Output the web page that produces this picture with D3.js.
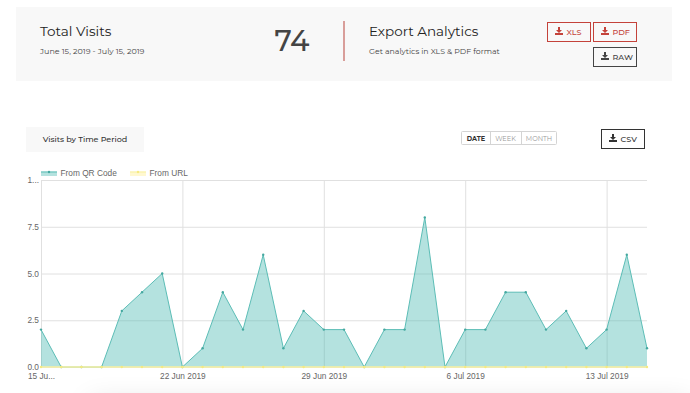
<!DOCTYPE html>
<html>
<head>
  <script src="https://d3js.org/d3.v7.min.js"></script>
  <style>
    html, body {
      margin: 0px;
      padding: 0px;
      background: #fff;
      overflow: hidden;
    }

    svg {
      display: block;
      position: absolute;
      left: 0px;
      top: 0px;
    }

    .ui {
      font-family: Montserrat, Inter, "Open Sans", sans-serif;
    }

    .axis text, .legend text {
      font-family: "Liberation Sans", Arial, sans-serif;
      font-size: 8.3px;
      fill: #666;
    }

    /* faint card shadow coming up from below the window */
    #shade {
      position: absolute;
      left: 90px;
      top: 402px;
      width: 600px;
      height: 40px;
      box-shadow: 0px 0px 28px rgba(0,0,0,0.13);
    }
  </style>
</head>
<body>
  <div id="shade"></div>
  <div id="chart"></div>
  <script>

    const dates = [
      "2019-06-15","2019-06-16","2019-06-17","2019-06-18","2019-06-19","2019-06-20","2019-06-21",
      "2019-06-22","2019-06-23","2019-06-24","2019-06-25","2019-06-26","2019-06-27","2019-06-28",
      "2019-06-29","2019-06-30","2019-07-01","2019-07-02","2019-07-03","2019-07-04","2019-07-05",
      "2019-07-06","2019-07-07","2019-07-08","2019-07-09","2019-07-10","2019-07-11","2019-07-12",
      "2019-07-13","2019-07-14","2019-07-15"
    ];
    const fromQr = [2,0,0,0,3,4,5,0,1,4,2,6,1,3,2,2,0,2,2,8,0,2,2,4,4,2,3,1,2,6,1];
    const fromUrl = [0,0,0,0,0,0,0,0,0,0,0,0,0,0,0,0,0,0,0,0,0,0,0,0,0,0,0,0,0,0,0];

    const yTicks = [0, 2.5, 5, 7.5, 10];
    const yTickLabels = ["0.0", "2.5", "5.0", "7.5", "1..."];
    const xTicks = ["2019-06-15","2019-06-22","2019-06-29","2019-07-06","2019-07-13"];
    const xTickLabels = ["15 Ju...", "22 Jun 2019", "29 Jun 2019", "6 Jul 2019", "13 Jul 2019"];

    const seriesNames = ["From QR Code", "From URL"];

    const width = 690;
    const height = 393;
    const margin = {top: 180, left: 41, right: 43, bottom: 26};

    const svg = d3.select("#chart")
      .append("svg")
      .attr("width", width)
      .attr("height", height);

    /*
    TOP PANEL
    */
    svg.append("rect")
      .attr("x", 16).attr("y", 7)
      .attr("width", 656).attr("height", 74)
      .attr("fill", "#f8f8f8");

    function label(x, y, str, size, color, anchor, weight) {
      return svg.append("text")
        .attr("class", "ui")
        .attr("x", x)
        .attr("y", y)
        .attr("font-size", size)
        .attr("fill", color)
        .attr("text-anchor", anchor || "start")
        .attr("font-weight", weight || 400)
        .text(str);
    }

    label(40, 36, "Total Visits", 13.6, "#222");
    label(40, 54, "June 15, 2019 - July 15, 2019", 8, "#444");
    label(292, 51, "74", 29, "#444", "middle", 500);

    svg.append("line")
      .attr("x1", 344).attr("x2", 344)
      .attr("y1", 21).attr("y2", 61)
      .attr("stroke", "#b9443c");

    label(369, 36, "Export Analytics", 13.5, "#222");
    label(369, 54, "Get analytics in XLS & PDF format", 7.8, "#444");

    // download glyph + label in a bordered box
    function button(x, y, w, h, str, color) {
      svg.append("rect")
        .attr("x", x + 0.5).attr("y", y + 0.5)
        .attr("width", w).attr("height", h)
        .attr("fill", "none")
        .attr("stroke", color);
      const ix = x + 12;
      const iy = y + 5;
      svg.append("path")
        .attr("d", `M${ix-1},${iy} h2 v3 h2 l-3,3 l-3,-3 h2 z M${ix-4},${iy+6} h8 v2 h-8 z`)
        .attr("fill", color);
      label(x + 19.5, y + 12.5, str, 8, color, "start", 500);
    }

    button(547, 22, 43, 19, "XLS", "#c4423a");
    button(593, 22, 43, 19, "PDF", "#c4423a");
    button(593, 47, 43, 19, "RAW", "#444");
    button(601, 129, 43, 19, "CSV", "#333");

    /*
    TAB AND PERIOD TOGGLE
    */
    svg.append("rect")
      .attr("x", 26).attr("y", 127)
      .attr("width", 118).attr("height", 25)
      .attr("fill", "#f8f8f8");
    label(85, 142, "Visits by Time Period", 8, "#333", "middle", 500);

    svg.append("rect")
      .attr("x", 461.5).attr("y", 131.5)
      .attr("width", 95).attr("height", 13)
      .attr("rx", 1)
      .attr("fill", "#fff")
      .attr("stroke", "#d4d4d4");
    [490, 521].forEach(function(x) {
      svg.append("line")
        .attr("x1", x + 0.5).attr("x2", x + 0.5)
        .attr("y1", 132).attr("y2", 144)
        .attr("stroke", "#d4d4d4");
    });
    label(476, 141, "DATE", 6.5, "#333", "middle", 700);
    label(505.5, 141, "WEEK", 6.6, "#999", "middle");
    label(539, 141, "MONTH", 6.6, "#999", "middle");

    /*
    SCALES
    */
    const parseDate = d3.utcParse("%Y-%m-%d");

    const xScale = d3.scaleUtc()
      .domain(d3.extent(dates, function(d) { return parseDate(d); }))
      .range([margin.left, width - margin.right]);

    const yScale = d3.scaleLinear()
      .domain([0, 10])
      .range([height - margin.bottom, margin.top]);

    /*
    AXES (grid lines are the long ticks)
    */
    const xAxis = svg.append("g")
      .attr("class", "axis")
      .attr("transform", `translate(0,${height - margin.bottom})`)
      .call(d3.axisBottom(xScale)
        .tickValues(xTicks.map(parseDate))
        .tickSize(margin.top - height + margin.bottom)
        .tickPadding(0)
        .tickFormat(function(d, i) { return xTickLabels[i]; }));

    xAxis.selectAll("text").attr("y", 12).attr("dy", 0);

    const yAxis = svg.append("g")
      .attr("class", "axis")
      .attr("transform", `translate(${margin.left},0)`)
      .call(d3.axisLeft(yScale)
        .tickValues(yTicks)
        .tickSize(-(width - margin.left - margin.right))
        .tickPadding(2)
        .tickFormat(function(d, i) { return yTickLabels[i]; }));

    svg.selectAll(".axis .domain").remove();
    svg.selectAll(".axis .tick line").attr("stroke", "#e0e0e0");

    /*
    AREAS
    */
    const area = d3.area()
      .x(function(d, i) { return xScale(parseDate(dates[i])); })
      .y0(yScale(0))
      .y1(function(d) { return yScale(d); });

    const line = d3.line()
      .x(function(d, i) { return xScale(parseDate(dates[i])); })
      .y(function(d) { return yScale(d); });

    const series = [
      {name: seriesNames[0], values: fromQr, fill: "rgba(77,186,178,0.42)", stroke: "#5cbdb6", dot: "#45a8a0", w: 1},
      {name: seriesNames[1], values: fromUrl, fill: "rgba(255,235,120,0.35)", stroke: "#f8f0a0", dot: "#f5ea80", w: 1.5}
    ];

    series.forEach(function(s) {
      svg.append("path")
        .datum(s.values)
        .attr("d", area)
        .attr("fill", s.fill);

      svg.append("path")
        .datum(s.values)
        .attr("d", line)
        .attr("fill", "none")
        .attr("stroke", s.stroke)
        .attr("stroke-width", s.w);

      svg.selectAll(null)
        .data(s.values)
        .enter()
        .append("circle")
          .attr("cx", function(d, i) { return xScale(parseDate(dates[i])); })
          .attr("cy", function(d) { return yScale(d); })
          .attr("r", 1.2)
          .attr("fill", s.dot);
    });

    /*
    LEGEND
    */
    const legendX = [41, 130];
    const legend = svg.append("g").attr("class", "legend");

    series.forEach(function(s, i) {
      legend.append("rect")
        .attr("x", legendX[i]).attr("y", 171.5)
        .attr("width", 16).attr("height", 4.5)
        .attr("fill", s.fill);
      legend.append("line")
        .attr("x1", legendX[i]).attr("x2", legendX[i] + 16)
        .attr("y1", 172).attr("y2", 172)
        .attr("stroke", s.stroke);
      legend.append("circle")
        .attr("cx", legendX[i] + 8).attr("cy", 172)
        .attr("r", 1.2)
        .attr("fill", s.dot);
      legend.append("text")
        .attr("x", legendX[i] + 19.5)
        .attr("y", 176)
        .text(s.name);
    });

  </script>
</body>
</html>
